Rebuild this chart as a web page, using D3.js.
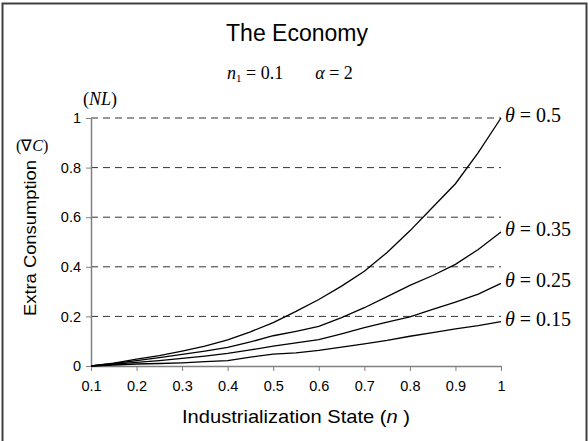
<!DOCTYPE html>
<html>
<head>
<meta charset="utf-8">
<script src="https://cdn.jsdelivr.net/npm/d3@7"></script>
<style>
  body { margin: 0; background: #fff; }
  svg { display: block; }
</style>
</head>
<body>
<script>
// industrialization state n
const nValues = [0.1, 0.15, 0.2, 0.25, 0.3, 0.35, 0.4, 0.45, 0.5, 0.55,
                 0.6, 0.65, 0.7, 0.75, 0.8, 0.85, 0.9, 0.95, 1.0];

// extra consumption, one array per theta
const theta050 = [0, 0.012, 0.028, 0.042, 0.06, 0.08, 0.105, 0.138, 0.175, 0.22,
                  0.268, 0.322, 0.382, 0.458, 0.545, 0.64, 0.735, 0.86, 1.0];
const theta035 = [0, 0.01, 0.022, 0.034, 0.047, 0.06, 0.075, 0.097, 0.122, 0.14,
                  0.16, 0.195, 0.235, 0.28, 0.325, 0.365, 0.41, 0.47, 0.54];
const theta025 = [0, 0.007, 0.015, 0.022, 0.031, 0.04, 0.051, 0.065, 0.08, 0.093,
                  0.106, 0.13, 0.155, 0.177, 0.198, 0.228, 0.258, 0.29, 0.333];
const theta015 = [0, 0.004, 0.008, 0.01, 0.013, 0.018, 0.022, 0.036, 0.048, 0.053,
                  0.063, 0.076, 0.089, 0.103, 0.12, 0.135, 0.15, 0.163, 0.179];

const thetaLabels = ['0.5', '0.35', '0.25', '0.15'];
const xTicks = [0.1, 0.2, 0.3, 0.4, 0.5, 0.6, 0.7, 0.8, 0.9, 1];
const yTicks = [0, 0.2, 0.4, 0.6, 0.8, 1];

const width = 588;
const height = 441;
const margin = { top: 118, right: 87, bottom: 75, left: 91 };

const series = [theta050, theta035, theta025, theta015].map((vals, i) => ({
    label: thetaLabels[i],
    points: vals.map((v, j) => ({ n: nValues[j], v: v }))
}));

const svg = d3.select('body').append('svg')
    .attr('width', width)
    .attr('height', height);

// outer frame
svg.append('rect')
    .attr('x', 2.5).attr('y', 3.5)
    .attr('width', 584).attr('height', 445)
    .attr('fill', 'none')
    .attr('stroke', '#404040')
    .attr('stroke-width', 2);

const x = d3.scaleLinear()
    .domain([0.1, 1])
    .range([margin.left, width - margin.right]);

const y = d3.scaleLinear()
    .domain([0, 1])
    .range([height - margin.bottom, margin.top]);

const sans = 'Arial, "Liberation Sans", sans-serif';
const serif = '"Times New Roman", "Liberation Serif", serif';

// dashed grid
svg.append('g')
    .selectAll('line')
    .data(yTicks.filter(d => d > 0))
    .join('line')
    .attr('x1', x(0.1)).attr('x2', x(1))
    .attr('y1', d => y(d)).attr('y2', d => y(d))
    .attr('stroke', '#333')
    .attr('stroke-width', 1)
    .attr('stroke-dasharray', '7,5');

const xAxis = svg.append('g')
    .attr('transform', `translate(0,${y(0)})`)
    .call(d3.axisBottom(x)
        .tickValues(xTicks)
        .tickSize(5)
        .tickPadding(10)
        .tickSizeOuter(0)
        .tickFormat(d => d === 1 ? '1' : d3.format('.1f')(d)));

const yAxis = svg.append('g')
    .attr('transform', `translate(${x(0.1)},0)`)
    .call(d3.axisLeft(y)
        .tickValues(yTicks)
        .tickSize(5)
        .tickPadding(5)
        .tickSizeOuter(0)
        .tickFormat(d => d === 0 || d === 1 ? String(d) : d3.format('.1f')(d)));

[xAxis, yAxis].forEach(g => {
    g.select('.domain').attr('stroke', '#808080').attr('stroke-width', 1.5);
    g.selectAll('.tick line').attr('stroke', '#808080');
    g.selectAll('text')
        .attr('fill', '#000')
        .style('font-family', sans)
        .style('font-size', '14.5px');
});

const line = d3.line()
    .x(d => x(d.n))
    .y(d => y(d.v));

svg.append('g')
    .selectAll('path')
    .data(series)
    .join('path')
    .attr('fill', 'none')
    .attr('stroke', '#000')
    .attr('stroke-width', 1.3)
    .attr('d', d => line(d.points));

// theta labels at line ends
const labels = svg.append('g')
    .selectAll('text')
    .data(series)
    .join('text')
    .attr('x', x(1) + 4)
    .attr('y', d => y(d.points[d.points.length - 1].v) + 4)
    .style('font-family', serif)
    .style('font-size', '20px');
labels.append('tspan').style('font-style', 'italic').text('θ');
labels.append('tspan').text(d => ' = ' + d.label);

// titles
svg.append('text')
    .attr('x', 297).attr('y', 41)
    .attr('text-anchor', 'middle')
    .style('font-family', sans)
    .style('font-size', '23px')
    .text('The Economy');

const sub = svg.append('text')
    .attr('x', 290).attr('y', 79)
    .attr('text-anchor', 'middle')
    .style('font-family', serif)
    .style('font-size', '18px');
sub.append('tspan').style('font-style', 'italic').text('n');
sub.append('tspan').attr('dy', 3).style('font-size', '11px').text('1');
sub.append('tspan').attr('dy', -3).text(' = 0.1');
sub.append('tspan').attr('dx', 32).style('font-style', 'italic').text('α');
sub.append('tspan').text(' = 2');

const nl = svg.append('text')
    .attr('x', 83).attr('y', 105)
    .style('font-family', serif)
    .style('font-size', '18px');
nl.append('tspan').text('(');
nl.append('tspan').style('font-style', 'italic').text('NL');
nl.append('tspan').text(')');

const dc = svg.append('text')
    .attr('x', 16).attr('y', 151)
    .style('font-family', serif)
    .style('font-size', '16px');
dc.append('tspan').text('(∇');
dc.append('tspan').style('font-style', 'italic').text('C');
dc.append('tspan').text(')');

// axis titles
svg.append('text')
    .attr('transform', 'translate(36,238) rotate(-90)')
    .attr('text-anchor', 'middle')
    .attr('textLength', 156)
    .attr('lengthAdjust', 'spacingAndGlyphs')
    .style('font-family', sans)
    .style('font-size', '17px')
    .text('Extra Consumption');

const xl = svg.append('text')
    .attr('x', 296).attr('y', 423)
    .attr('text-anchor', 'middle')
    .attr('textLength', 228)
    .attr('lengthAdjust', 'spacingAndGlyphs')
    .style('font-family', sans)
    .style('font-size', '19px');
xl.append('tspan').text('Industrialization State (');
xl.append('tspan').style('font-style', 'italic').text('n');
xl.append('tspan').text(' )');
</script>
</body>
</html>
